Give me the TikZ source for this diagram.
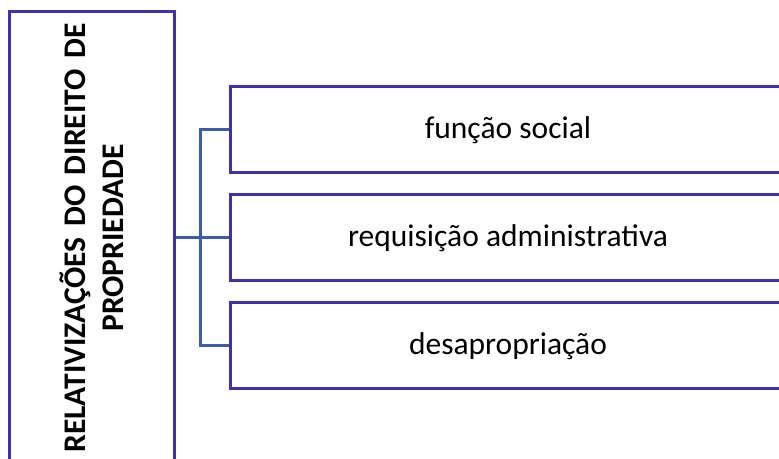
\documentclass[tikz,border=0pt]{standalone}
\usepackage{fontspec}
\setmainfont{Carlito}
\definecolor{boxc}{RGB}{66,50,168}
\definecolor{connc}{RGB}{60,94,164}
\tikzset{
  boxst/.style={draw=boxc, line width=3bp, fill=white, inner sep=0pt},
  conn/.style={draw=connc, line width=3bp},
  lbl/.style={font=\fontsize{31.5bp}{38bp}\selectfont}
}
\begin{document}
\begin{tikzpicture}[x=1bp,y=1bp]
\useasboundingbox (0,0) rectangle (779,459);
\clip (0,0) rectangle (779,459);
\node[boxst, rotate=90, minimum width=452bp, minimum height=164bp, text width=440bp, align=center,
  font=\fontsize{31.5bp}{38bp}\selectfont\bfseries] (L) at (92,221)
  {RELATIVIZAÇÕES DO DIREITO DE\\PROPRIEDADE};
\node[boxst, lbl, minimum width=556bp, minimum height=86bp] (b1) at (508,329) {função social};
\node[boxst, lbl, minimum width=556bp, minimum height=86bp] (b2) at (508,221) {requisição administrativa};
\node[boxst, lbl, minimum width=556bp, minimum height=86bp] (b3) at (508,113) {desapropriação};
\draw[conn] (L.south) -- (b2.west);
\draw[conn] (b1.west) -- ++(-28,0) |- (b3.west);
\end{tikzpicture}
\end{document}
